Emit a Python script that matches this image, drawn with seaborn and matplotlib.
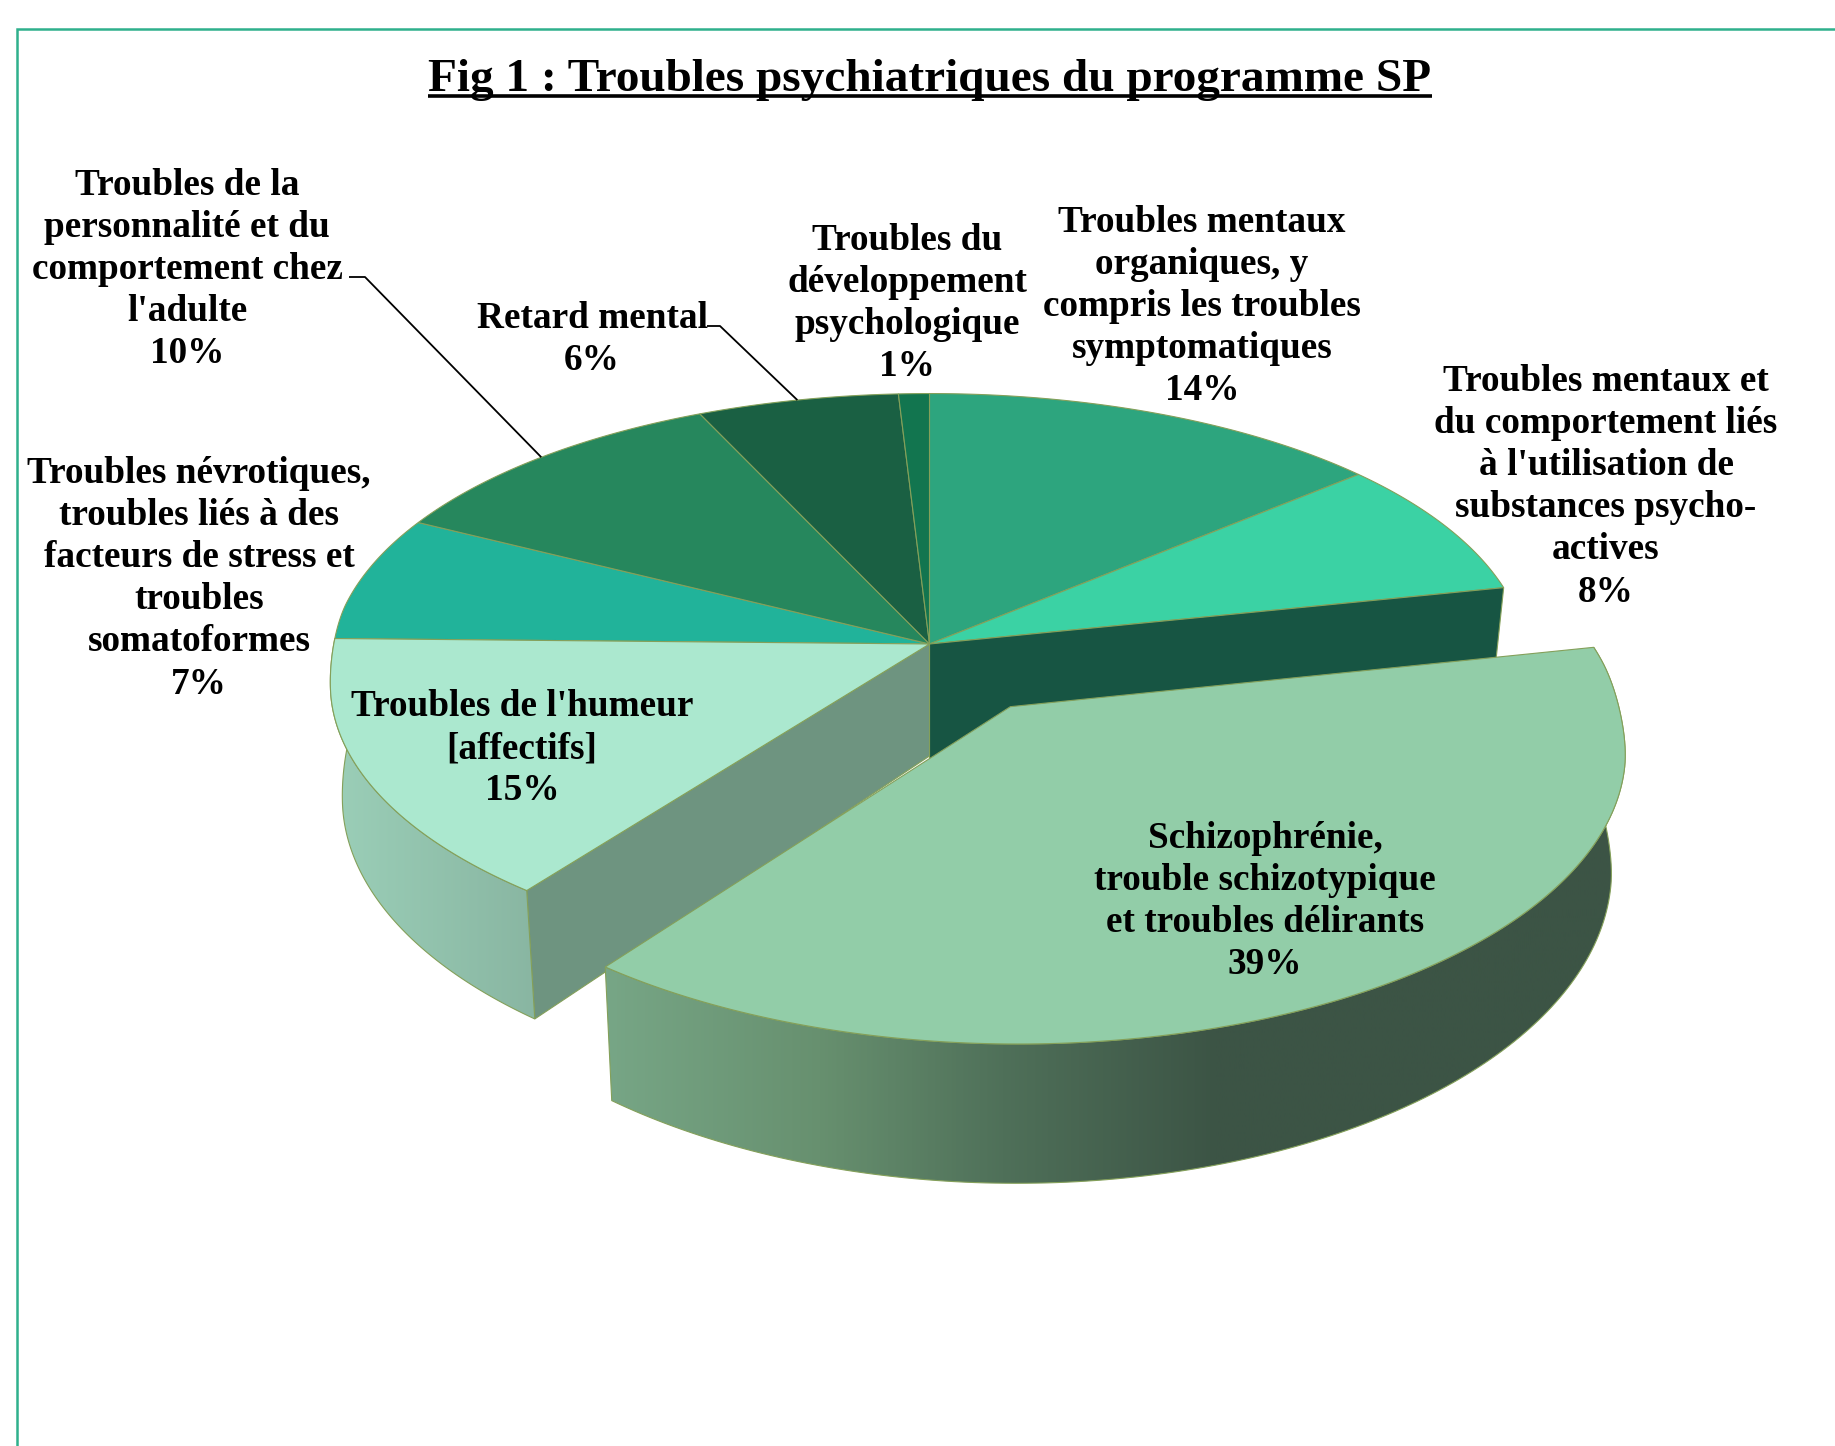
import numpy as np
import matplotlib
matplotlib.use("Agg")
import matplotlib.pyplot as plt
from matplotlib.colors import LinearSegmentedColormap
from matplotlib.patches import Polygon
import seaborn as sns

# ---- data ----
title = "Fig 1 : Troubles psychiatriques du programme SP"
values = [13.7, 8.0, 39.15, 14.75, 6.95, 10.65, 5.9, 0.9]      # slice sizes
percent_labels = ["14%", "8%", "39%", "15%", "7%", "10%", "6%", "1%"]
label_lines = [
    ["Troubles mentaux", "organiques, y", "compris les troubles", "symptomatiques"],
    ["Troubles mentaux et", "du comportement liés", "à l'utilisation de", "substances psycho-", "actives"],
    ["Schizophrénie,", "trouble schizotypique", "et troubles délirants"],
    ["Troubles de l'humeur", "[affectifs]"],
    ["Troubles névrotiques,", "troubles liés à des", "facteurs de stress et", "troubles", "somatoformes"],
    ["Troubles de la", "personnalité et du", "comportement chez", "l'adulte"],
    ["Retard mental"],
    ["Troubles du", "développement", "psychologique"],
]
colors = ["#2DA57E", "#3BD2A4", "#92CDA8", "#ABE8CF", "#21B39A", "#26875D", "#1A6043", "#12754F"]
label_cx = [1202, 1606, 1265, 522, 199, 187, 592, 907]
label_y0 = [232, 391, 848, 716, 483, 195, 328, 250]

sns.set_theme(style="white")
plt.rcParams["font.family"] = ["Liberation Serif", "DejaVu Serif"]
palette = sns.color_palette(colors)

# ---- projection of the tilted disc ----
CX, CY = 929.5, 644.0
RX, RY = 597.0, 280.5
PX, PY = 0.085, 0.12
DEPTH = 112.0
SHRINK = 0.98
EDGE = "#84A05A"
EXPLODE = 0.255
BULGE_Y, BULGE_X = 16.0, 4.0


def project(u, v, low=False):
    wx, wy = 1 + PX * v, 1 + PY * v
    x, y = RX * u / wx, -RY * v / wy
    if low:
        return CX + x * SHRINK, CY + y / SHRINK + DEPTH / wy
    return CX + x, CY + y


def rim(a0, a1, off=(0, 0), low=False, n=160):
    t = np.radians(np.linspace(a0, a1, n))
    x, y = project(np.sin(t) + off[0], np.cos(t) + off[1], low)
    # the front of the drawn disc is fuller than a pure ellipse
    mask = np.clip((0.15 - np.cos(t)) / 0.3, 0, 1)
    mask = mask * mask * (3 - 2 * mask)
    y = y + BULGE_Y * np.sin(t) ** 2 * mask
    x = x + BULGE_X * np.clip(np.sin(t), 0, 1) ** 2 * mask
    return x, y


def poly(x, y):
    return np.column_stack([x, y])


fracs = np.array(values) / sum(values)
edges = np.concatenate([[0], np.cumsum(fracs) * 360])

fig = plt.figure(figsize=(18.35, 14.46), dpi=100, facecolor="white")
ax = fig.add_axes([0, 0, 1, 1])
ax.set_axis_off()
LW = 0.8


def gradient(points, stops, z):
    """Side wall shaded left to right in screen space."""
    xs = points[:, 0]
    cm = LinearSegmentedColormap.from_list("g", stops)
    im = ax.imshow(np.linspace(0, 1, 512)[None, :], cmap=cm, aspect="auto", zorder=z,
                   extent=(xs.min(), xs.max(), points[:, 1].max(), points[:, 1].min()))
    p = Polygon(points, closed=True, facecolor="none", edgecolor=EDGE, lw=LW, zorder=z + 0.1)
    ax.add_patch(p)
    im.set_clip_path(p)


def flat(points, color, z):
    ax.add_patch(Polygon(points, closed=True, facecolor=color, edgecolor=EDGE, lw=LW, zorder=z))


def top(i, off, z):
    x, y = rim(edges[i], edges[i + 1], off)
    ax_, ay = project(off[0], off[1])
    flat(poly(np.r_[ax_, x], np.r_[ay, y]), palette[i], z)


def point(a, low=False):
    x, y = rim(a, a, low=low, n=1)
    return x[0], y[0]


# main pie tops (everything except the exploded slice and the mood slice)
for i in [0, 1, 4, 5, 6, 7]:
    top(i, (0, 0), 2)

# wall behind the exploded slice (runs a little lower so no gap shows at the apex)
p0, p3 = project(0, 0), project(0, 0, True)
flat(np.array([p0, point(edges[2]), point(edges[2], True), (p3[0], p3[1] + 6)]), "#175543", 3)

# mood slice: radial wall, outer side, top
flat(np.array([p0, point(edges[3]), point(edges[3], True), p3]), "#6E9480", 4)
xa, ya = rim(edges[3], edges[4])
xb, yb = rim(edges[3], edges[4], low=True)
gradient(poly(np.r_[xa, xb[::-1]], np.r_[ya, yb[::-1]]), ["#9BCFB8", "#89B6A2"], 5)
top(3, (0, 0), 6)

# exploded slice
mid = np.radians((edges[2] + edges[3]) / 2)
off = (EXPLODE * np.sin(mid), EXPLODE * np.cos(mid))
xa, ya = rim(edges[2], edges[3], off)
xb, yb = rim(edges[2], edges[3], off, low=True)
gradient(poly(np.r_[xa, xb[::-1]], np.r_[ya, yb[::-1]]),
         [(0, "#77A686"), (0.21, "#67906F"), (0.39, "#4F7059"), (0.60, "#3C5445"), (1, "#3C5445")], 7)
top(2, off, 8)

# leader lines ending at the rim of their slices
for i, (x0, y0, x1) in {5: (349, 277, 365), 6: (707, 326, 720)}.items():
    xe, ye = point((edges[i] + edges[i + 1]) / 2)
    ax.plot([x0, x1, xe], [y0, y0, ye], color="black", lw=1.3, zorder=9, solid_capstyle="butt")

# labels
FS = 26.8
LINE = 42.1
for i, lines in enumerate(label_lines):
    rows = lines + [percent_labels[i]]
    for k, s in enumerate(rows):
        ax.text(label_cx[i], label_y0[i] + k * LINE, s, ha="center", va="baseline",
                fontsize=FS, fontweight="bold", color="black", zorder=10)

# title and underline
ax.text(930, 91, title, ha="center", va="baseline", fontsize=34, fontweight="bold", color="black", zorder=10)
ax.plot([428, 1432], [96, 96], color="black", lw=2.6, solid_capstyle="butt", zorder=10)

# frame
ax.plot([17, 17, 1835], [1446, 29, 29], color="#2FB08C", lw=1.8, solid_joinstyle="miter", zorder=1)

ax.set_xlim(0, 1835)
ax.set_ylim(1446, 0)
fig.savefig("out.png", dpi=100, facecolor="white")
